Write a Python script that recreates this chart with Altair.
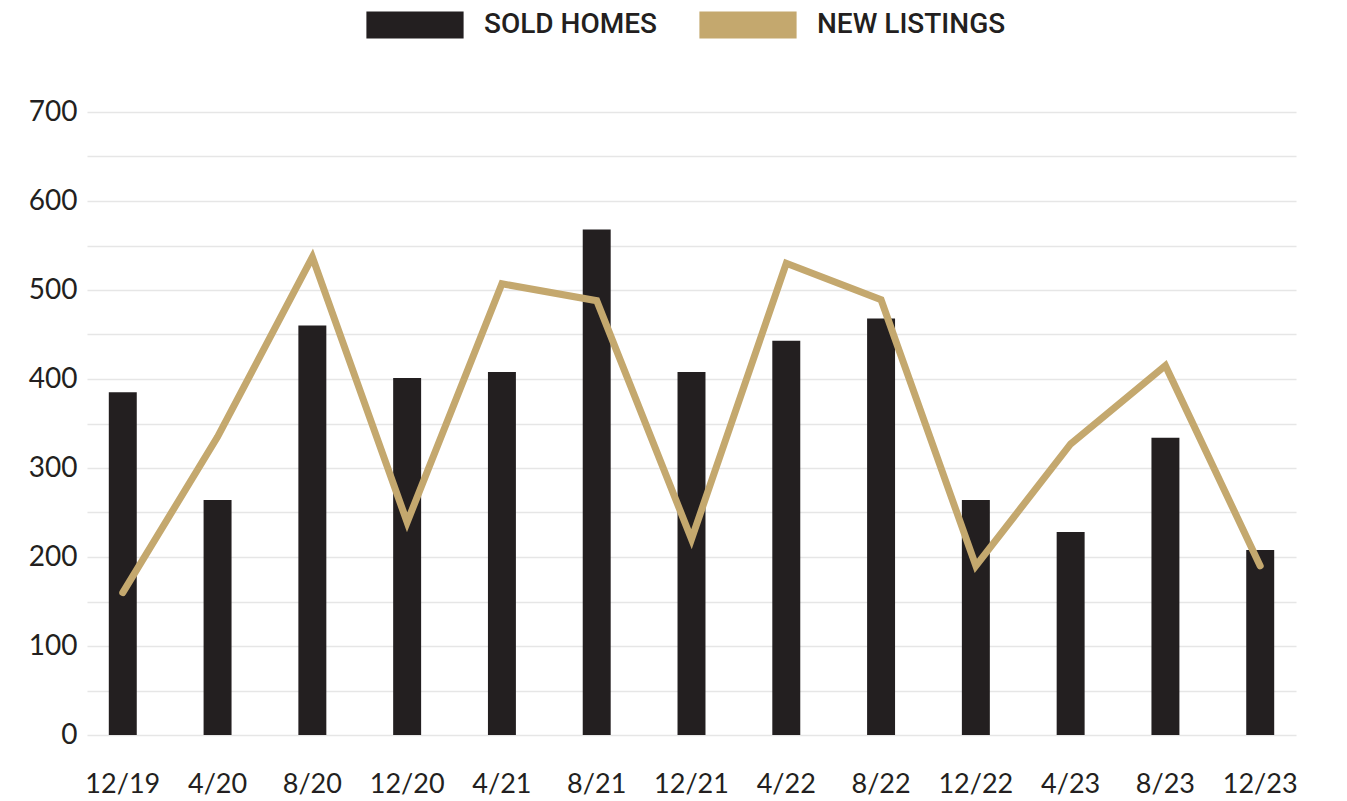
import altair as alt
import pandas as pd

months = ["12/19", "4/20", "8/20", "12/20", "4/21", "8/21", "12/21",
          "4/22", "8/22", "12/22", "4/23", "8/23", "12/23"]
sold_homes = [385, 264, 460, 401, 408, 568, 408, 443, 468, 264, 228, 334, 208]
new_listings = [160, 335, 537, 239, 507, 488, 220, 530, 489, 190, 327, 415, 190]
series_names = ["SOLD HOMES", "NEW LISTINGS"]
series_colors = ["#231f20", "#c4a86e"]

df = pd.DataFrame({
    "month": months,
    "sold": sold_homes,
    "listings": new_listings,
    "series": [series_names[0]] * len(months),
})

x = alt.X("month:N", sort=months, title=None,
          scale=alt.Scale(paddingInner=0.705, paddingOuter=0.23),
          axis=alt.Axis(labelAngle=0, ticks=False, domain=False, grid=False,
                        labelFont="Lato", labelFontSize=27, labelColor="#231f20",
                        labelPadding=36))

yscale = alt.Scale(domain=[0, 700], nice=False)

bars = alt.Chart(df).mark_bar(cornerRadius=0).encode(
    x=x,
    y=alt.Y("sold:Q", scale=yscale, title=None,
            axis=alt.Axis(values=list(range(0, 701, 50)),
                          labelExpr="datum.value % 100 == 0 ? datum.label : ''",
                          ticks=False, domain=False, grid=True,
                          gridColor="#e6e6e6", gridWidth=1.5,
                          labelFont="Lato", labelFontSize=28, labelColor="#231f20",
                          labelPadding=10, minExtent=79, maxExtent=79)),
    color=alt.Color("series:N",
                    scale=alt.Scale(domain=series_names, range=series_colors),
                    legend=alt.Legend(title=None, orient="none", direction="horizontal",
                                      legendX=314, legendY=-101,
                                      symbolType="M-3.6,-1L3.6,-1L3.6,1L-3.6,1Z",
                                      symbolSize=729, symbolStrokeWidth=0,
                                      symbolOpacity=1, labelLimit=400,
                                      labelFont="Roboto", labelFontWeight=500,
                                      labelFontSize=28, labelColor="#231f20",
                                      labelOffset=55, columnPadding=41)),
)

line = alt.Chart(df).mark_line(strokeWidth=7, strokeCap="round", strokeJoin="miter",
                               color=series_colors[1]).encode(
    x=x,
    y=alt.Y("listings:Q", scale=yscale),
)

chart = alt.layer(bars, line).properties(
    width=1209, height=623, background="white",
    padding={"left": 0, "top": 3, "right": 0, "bottom": 0}
).configure_view(strokeWidth=0, stroke=None)

chart.save("out.html", embed_options={"renderer": "svg", "actions": False})
